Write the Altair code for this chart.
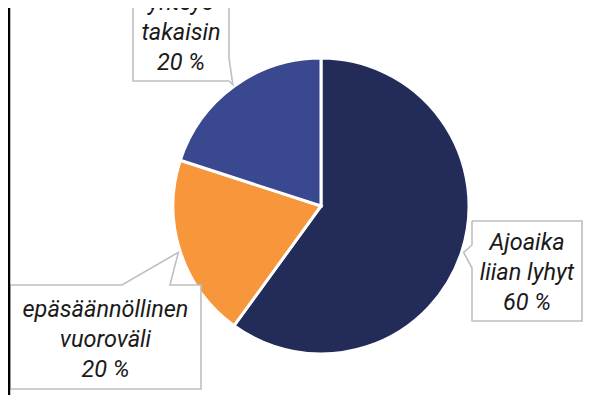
import math
import altair as alt
import pandas as pd

# ---- data ----
categories = ["Ajoaika liian lyhyt", "epäsäännöllinen vuoroväli", "yhteys takaisin"]
values = [60, 20, 20]
label_lines = [
    ["Ajoaika", "liian lyhyt", "60 %"],
    ["epäsäännöllinen", "vuoroväli", "20 %"],
    ["yhteys", "takaisin", "20 %"],
]
colors = ["#232B59", "#F7963A", "#3A4890"]

# ---- layout (pixels in chart space) ----
W, H = 585, 387
CX, CY, R = 313, 198, 148
TIP_R = 150
LINE_GAP = 30
# box: x1, y1, x2, y2, side of pointer, pointer base points along that side
boxes = [
    dict(x1=464, y1=213, x2=574, y2=313, side="left", b=(237, 260), ty=265),
    dict(x1=2, y1=277, x2=193, y2=381, side="top", b=(114, 162), ty=332),
    dict(x1=125, y1=-40, x2=221, y2=73, side="right", b=(50, 73), ty=25),
]

# pointer tips at the middle of each slice's arc
total = sum(values)
tips = []
acc = 0
for v in values:
    mid = (acc + v / 2) / total * 2 * math.pi
    tips.append((CX + TIP_R * math.sin(mid), CY - TIP_R * math.cos(mid)))
    acc += v

pie_df = pd.DataFrame({"category": categories, "value": values, "idx": range(len(values))})

rect_rows, path_rows, text_rows = [], [], []
for i, (bx, tip) in enumerate(zip(boxes, tips)):
    x1, y1, x2, y2 = bx["x1"], bx["y1"], bx["x2"], bx["y2"]
    b0, b1 = bx["b"]
    rect_rows.append(dict(x=x1, x2=x2, y=y1, y2=y2))
    if bx["side"] == "left":
        pts = [(x1, y1), (x2, y1), (x2, y2), (x1, y2), (x1, b1), tip, (x1, b0), (x1, y1)]
    elif bx["side"] == "top":
        pts = [(x1, y1), (b0, y1), tip, (b1, y1), (x2, y1), (x2, y2), (x1, y2), (x1, y1)]
    else:  # right
        pts = [(x1, y1), (x2, y1), (x2, b0), tip, (x2, b1), (x2, y2), (x1, y2), (x1, y1)]
    for k, (px, py) in enumerate(pts):
        path_rows.append(dict(box=i, k=k, x=px, y=py))
    cx = (x1 + x2) / 2
    n = len(label_lines[i])
    for j, line in enumerate(label_lines[i]):
        text_rows.append(dict(x=cx, y=bx["ty"] + (j - (n - 1) / 2) * LINE_GAP, t=line))

xs = alt.Scale(domain=[0, W], nice=False, zero=False)
ys = alt.Scale(domain=[0, H], nice=False, zero=False, reverse=True)

pie = alt.Chart(pie_df).mark_arc(outerRadius=R, stroke="white", strokeWidth=3).encode(
    theta=alt.Theta("value:Q", stack=True),
    color=alt.Color("category:N", scale=alt.Scale(domain=categories, range=colors), legend=None),
    order=alt.Order("idx:Q"),
    x=alt.value(CX),
    y=alt.value(CY),
)

fills = alt.Chart(pd.DataFrame(rect_rows)).mark_rect(fill="white", strokeWidth=0).encode(
    x=alt.X("x:Q", scale=xs, axis=None),
    x2="x2:Q",
    y=alt.Y("y:Q", scale=ys, axis=None),
    y2="y2:Q",
)

outlines = alt.Chart(pd.DataFrame(path_rows)).mark_line(
    stroke="#BFBFBF", strokeWidth=1.6, strokeJoin="miter"
).encode(
    x=alt.X("x:Q", scale=xs, axis=None),
    y=alt.Y("y:Q", scale=ys, axis=None),
    detail="box:N",
    order="k:Q",
)

texts = alt.Chart(pd.DataFrame(text_rows)).mark_text(
    font="Roboto", fontStyle="italic", fontSize=23.5, color="#1A1A1A", baseline="middle", align="center"
).encode(
    x=alt.X("x:Q", scale=xs, axis=None),
    y=alt.Y("y:Q", scale=ys, axis=None),
    text="t:N",
)

edge = alt.Chart(pd.DataFrame({"a": [0]})).mark_rule(color="black", strokeWidth=2.5).encode(
    x=alt.value(1), y=alt.value(0), y2=alt.value(H)
)

chart = alt.layer(pie, fills, outlines, texts, edge).properties(
    width=W, height=H, padding=0, autosize=alt.AutoSizeParams(type="none")
).configure_view(stroke=None)

chart.save("out.html", embed_options={"renderer": "svg", "actions": False})
